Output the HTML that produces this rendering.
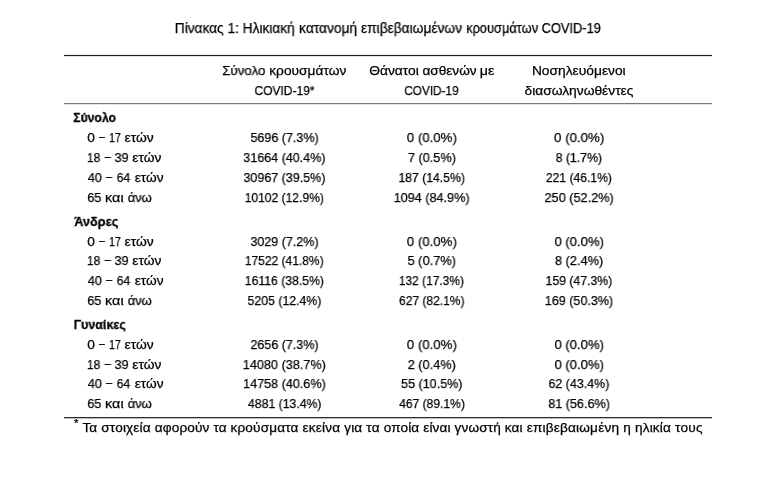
<!DOCTYPE html>
<html><head><meta charset="utf-8"><style>
html,body{margin:0;padding:0;background:#fff;width:779px;height:480px;overflow:hidden}
body{position:relative;font-family:"Liberation Sans",sans-serif;color:#000;-webkit-text-stroke:0.25px #000}
.t{position:absolute;white-space:pre;line-height:16px;will-change:transform;transform-origin:0 0}
.rule{position:absolute;left:64px;width:648px}
</style></head><body>
<div class="rule" style="top:54px;height:1px;background:#f0f0f0"></div>
<div class="rule" style="top:55px;height:1px;background:#1e1e1e"></div>
<div class="rule" style="top:56px;height:1px;background:#e2e2e2"></div>
<div class="rule" style="top:103px;height:1px;background:#777"></div>
<div class="rule" style="top:104px;height:1px;background:#e4e4e4"></div>
<div class="rule" style="top:417px;height:1px;background:#2e2e2e"></div>
<div class="rule" style="top:418px;height:1px;background:#bcbcbc"></div>
<div id="ast" style="position:absolute;left:74px;top:418px;font-size:11.5px;line-height:11px;will-change:transform;color:#000">*</div>

<div class="t" style="left:174px;padding-left:0.849px;top:19.90px;font-size:14px;font-weight:400;letter-spacing:0.000px;transform:scaleX(0.9773)">Πίνακας 1: Ηλικιακή</div>
<div class="t" style="left:299px;padding-left:0.106px;top:19.90px;font-size:14px;font-weight:400;letter-spacing:0.000px;transform:scaleX(0.9840)">κατανομή επιβεβαιωμένων</div>
<div class="t" style="left:466px;padding-left:0.167px;top:19.90px;font-size:14px;font-weight:400;letter-spacing:0.000px;transform:scaleX(0.9168)">κρουσμάτων COVID-19</div>
<div class="t" style="left:222px;padding-left:0.227px;top:63.36px;font-size:13.6px;font-weight:400;letter-spacing:0.000px;transform:scaleX(0.9801)">Σύνολο</div>
<div class="t" style="left:269px;padding-left:0.247px;top:63.36px;font-size:13.6px;font-weight:400;letter-spacing:0.000px;transform:scaleX(1.0111)">κρουσμάτων</div>
<div class="t" style="left:254px;padding-left:0.398px;top:83.36px;font-size:13.6px;font-weight:400;letter-spacing:0.000px;transform:scaleX(0.8863)">COVID-19*</div>
<div class="t" style="left:369px;padding-left:0.235px;top:63.36px;font-size:13.6px;font-weight:400;letter-spacing:0.000px;transform:scaleX(1.0150)">Θάνατοι</div>
<div class="t" style="left:422px;padding-left:0.453px;top:63.36px;font-size:13.6px;font-weight:400;letter-spacing:0.000px;transform:scaleX(1.0019)">ασθενών</div>
<div class="t" style="left:479px;padding-left:0.825px;top:63.36px;font-size:13.6px;font-weight:400;letter-spacing:0.000px;transform:scaleX(1.0456)">με</div>
<div class="t" style="left:404px;padding-left:0.278px;top:83.36px;font-size:13.6px;font-weight:400;letter-spacing:0.000px;transform:scaleX(0.8671)">COVID-19</div>
<div class="t" style="left:531px;padding-left:0.906px;top:63.36px;font-size:13.6px;font-weight:400;letter-spacing:0.000px;transform:scaleX(1.0143)">Νοσηλευόμενοι</div>
<div class="t" style="left:524px;padding-left:0.498px;top:83.36px;font-size:13.6px;font-weight:400;letter-spacing:0.000px;transform:scaleX(1.0143)">διασωληνωθέντες</div>
<div class="t" style="left:73px;padding-left:0.222px;top:109.66px;font-size:13.6px;font-weight:700;-webkit-text-stroke:0.3px #000;letter-spacing:0.000px;transform:scaleX(0.8984)">Σύνολο</div>
<div class="t" style="left:87px;padding-left:0.141px;top:130.46px;font-size:13.6px;font-weight:400;letter-spacing:0.000px;transform:scaleX(1.0112)">0</div>
<div class="t" style="left:99px;padding-left:0.010px;top:129.46px;font-size:13.6px;font-weight:400;letter-spacing:0.000px;transform:scaleX(0.7644)">–</div>
<div class="t" style="left:109px;padding-left:0.067px;top:130.46px;font-size:13.6px;font-weight:400;letter-spacing:0.000px;transform:scaleX(0.7846)">17</div>
<div class="t" style="left:124px;padding-left:0.584px;top:130.46px;font-size:13.6px;font-weight:400;letter-spacing:0.000px;transform:scaleX(1.0173)">ετών</div>
<div class="t" style="left:250px;padding-left:0.486px;top:130.46px;font-size:13.6px;font-weight:400;letter-spacing:0.000px;transform:scaleX(0.9215)">5696 (7.3%)</div>
<div class="t" style="left:406px;padding-left:0.814px;top:130.46px;font-size:13.6px;font-weight:400;letter-spacing:0.000px;transform:scaleX(0.9739)">0 (0.0%)</div>
<div class="t" style="left:554px;padding-left:0.105px;top:130.46px;font-size:13.6px;font-weight:400;letter-spacing:0.000px;transform:scaleX(0.9762)">0 (0.0%)</div>
<div class="t" style="left:86px;padding-left:0.996px;top:150.36px;font-size:13.6px;font-weight:400;letter-spacing:0.000px;transform:scaleX(0.8901)">18</div>
<div class="t" style="left:104px;padding-left:0.649px;top:149.36px;font-size:13.6px;font-weight:400;letter-spacing:0.000px;transform:scaleX(0.8317)">–</div>
<div class="t" style="left:114px;padding-left:0.404px;top:150.36px;font-size:13.6px;font-weight:400;letter-spacing:0.000px;transform:scaleX(0.9391)">39</div>
<div class="t" style="left:132px;padding-left:0.369px;top:150.36px;font-size:13.6px;font-weight:400;letter-spacing:0.000px;transform:scaleX(1.0135)">ετών</div>
<div class="t" style="left:243px;padding-left:0.361px;top:150.36px;font-size:13.6px;font-weight:400;letter-spacing:0.000px;transform:scaleX(0.9216)">31664 (40.4%)</div>
<div class="t" style="left:407px;padding-left:0.896px;top:150.36px;font-size:13.6px;font-weight:400;letter-spacing:0.000px;transform:scaleX(0.9356)">7 (0.5%)</div>
<div class="t" style="left:555px;padding-left:0.681px;top:150.36px;font-size:13.6px;font-weight:400;letter-spacing:0.000px;transform:scaleX(0.9043)">8 (1.7%)</div>
<div class="t" style="left:87px;padding-left:0.663px;top:170.26px;font-size:13.6px;font-weight:400;letter-spacing:0.000px;transform:scaleX(0.9423)">40</div>
<div class="t" style="left:105px;padding-left:0.910px;top:169.26px;font-size:13.6px;font-weight:400;letter-spacing:0.000px;transform:scaleX(0.8308)">–</div>
<div class="t" style="left:116px;padding-left:0.629px;top:170.26px;font-size:13.6px;font-weight:400;letter-spacing:0.000px;transform:scaleX(0.8934)">64</div>
<div class="t" style="left:134px;padding-left:0.651px;top:170.26px;font-size:13.6px;font-weight:400;letter-spacing:0.000px;transform:scaleX(1.0063)">ετών</div>
<div class="t" style="left:243px;padding-left:0.529px;top:170.26px;font-size:13.6px;font-weight:400;letter-spacing:0.000px;transform:scaleX(0.9187)">30967 (39.5%)</div>
<div class="t" style="left:398px;padding-left:0.461px;top:170.26px;font-size:13.6px;font-weight:400;letter-spacing:0.000px;transform:scaleX(0.8978)">187 (14.5%)</div>
<div class="t" style="left:545px;padding-left:0.973px;top:170.26px;font-size:13.6px;font-weight:400;letter-spacing:0.000px;transform:scaleX(0.8915)">221 (46.1%)</div>
<div class="t" style="left:87px;padding-left:0.255px;top:190.36px;font-size:13.6px;font-weight:400;letter-spacing:0.000px;transform:scaleX(0.9371)">65</div>
<div class="t" style="left:105px;padding-left:0.090px;top:190.36px;font-size:13.6px;font-weight:400;letter-spacing:0.000px;transform:scaleX(1.0587)">και</div>
<div class="t" style="left:127px;padding-left:0.698px;top:190.36px;font-size:13.6px;font-weight:400;letter-spacing:0.000px;transform:scaleX(0.9564)">άνω</div>
<div class="t" style="left:244px;padding-left:0.687px;top:190.36px;font-size:13.6px;font-weight:400;letter-spacing:0.000px;transform:scaleX(0.8897)">10102 (12.9%)</div>
<div class="t" style="left:393px;padding-left:0.674px;top:190.36px;font-size:13.6px;font-weight:400;letter-spacing:0.000px;transform:scaleX(0.9306)">1094 (84.9%)</div>
<div class="t" style="left:544px;padding-left:0.564px;top:190.36px;font-size:13.6px;font-weight:400;letter-spacing:0.000px;transform:scaleX(0.9350)">250 (52.2%)</div>
<div class="t" style="left:74px;padding-left:0.165px;top:213.56px;font-size:13.6px;font-weight:700;-webkit-text-stroke:0.3px #000;letter-spacing:0.000px;transform:scaleX(0.9369)">Άνδρες</div>
<div class="t" style="left:87px;padding-left:0.141px;top:234.26px;font-size:13.6px;font-weight:400;letter-spacing:0.000px;transform:scaleX(1.0112)">0</div>
<div class="t" style="left:99px;padding-left:0.010px;top:233.26px;font-size:13.6px;font-weight:400;letter-spacing:0.000px;transform:scaleX(0.7644)">–</div>
<div class="t" style="left:109px;padding-left:0.067px;top:234.26px;font-size:13.6px;font-weight:400;letter-spacing:0.000px;transform:scaleX(0.7846)">17</div>
<div class="t" style="left:124px;padding-left:0.584px;top:234.26px;font-size:13.6px;font-weight:400;letter-spacing:0.000px;transform:scaleX(1.0173)">ετών</div>
<div class="t" style="left:250px;padding-left:0.436px;top:234.26px;font-size:13.6px;font-weight:400;letter-spacing:0.000px;transform:scaleX(0.9208)">3029 (7.2%)</div>
<div class="t" style="left:406px;padding-left:0.814px;top:234.26px;font-size:13.6px;font-weight:400;letter-spacing:0.000px;transform:scaleX(0.9739)">0 (0.0%)</div>
<div class="t" style="left:554px;padding-left:0.432px;top:234.26px;font-size:13.6px;font-weight:400;letter-spacing:0.000px;transform:scaleX(0.9646)">0 (0.0%)</div>
<div class="t" style="left:86px;padding-left:0.996px;top:252.96px;font-size:13.6px;font-weight:400;letter-spacing:0.000px;transform:scaleX(0.8901)">18</div>
<div class="t" style="left:104px;padding-left:0.649px;top:251.96px;font-size:13.6px;font-weight:400;letter-spacing:0.000px;transform:scaleX(0.8317)">–</div>
<div class="t" style="left:114px;padding-left:0.404px;top:252.96px;font-size:13.6px;font-weight:400;letter-spacing:0.000px;transform:scaleX(0.9391)">39</div>
<div class="t" style="left:132px;padding-left:0.369px;top:252.96px;font-size:13.6px;font-weight:400;letter-spacing:0.000px;transform:scaleX(1.0135)">ετών</div>
<div class="t" style="left:244px;padding-left:0.992px;top:252.96px;font-size:13.6px;font-weight:400;letter-spacing:0.000px;transform:scaleX(0.8823)">17522 (41.8%)</div>
<div class="t" style="left:407px;padding-left:0.527px;top:252.96px;font-size:13.6px;font-weight:400;letter-spacing:0.000px;transform:scaleX(0.9463)">5 (0.7%)</div>
<div class="t" style="left:554px;padding-left:0.956px;top:252.96px;font-size:13.6px;font-weight:400;letter-spacing:0.000px;transform:scaleX(0.9407)">8 (2.4%)</div>
<div class="t" style="left:87px;padding-left:0.663px;top:272.76px;font-size:13.6px;font-weight:400;letter-spacing:0.000px;transform:scaleX(0.9423)">40</div>
<div class="t" style="left:105px;padding-left:0.910px;top:271.76px;font-size:13.6px;font-weight:400;letter-spacing:0.000px;transform:scaleX(0.8308)">–</div>
<div class="t" style="left:116px;padding-left:0.629px;top:272.76px;font-size:13.6px;font-weight:400;letter-spacing:0.000px;transform:scaleX(0.8934)">64</div>
<div class="t" style="left:134px;padding-left:0.651px;top:272.76px;font-size:13.6px;font-weight:400;letter-spacing:0.000px;transform:scaleX(1.0063)">ετών</div>
<div class="t" style="left:244px;padding-left:0.848px;top:272.76px;font-size:13.6px;font-weight:400;letter-spacing:0.000px;transform:scaleX(0.8980)">16116 (38.5%)</div>
<div class="t" style="left:398px;padding-left:0.908px;top:272.76px;font-size:13.6px;font-weight:400;letter-spacing:0.000px;transform:scaleX(0.8801)">132 (17.3%)</div>
<div class="t" style="left:545px;padding-left:0.604px;top:272.76px;font-size:13.6px;font-weight:400;letter-spacing:0.000px;transform:scaleX(0.9009)">159 (47.3%)</div>
<div class="t" style="left:87px;padding-left:0.255px;top:292.56px;font-size:13.6px;font-weight:400;letter-spacing:0.000px;transform:scaleX(0.9371)">65</div>
<div class="t" style="left:105px;padding-left:0.090px;top:292.56px;font-size:13.6px;font-weight:400;letter-spacing:0.000px;transform:scaleX(1.0587)">και</div>
<div class="t" style="left:127px;padding-left:0.698px;top:292.56px;font-size:13.6px;font-weight:400;letter-spacing:0.000px;transform:scaleX(0.9564)">άνω</div>
<div class="t" style="left:247px;padding-left:0.617px;top:292.56px;font-size:13.6px;font-weight:400;letter-spacing:0.000px;transform:scaleX(0.9040)">5205 (12.4%)</div>
<div class="t" style="left:399px;padding-left:0.111px;top:292.56px;font-size:13.6px;font-weight:400;letter-spacing:0.000px;transform:scaleX(0.8823)">627 (82.1%)</div>
<div class="t" style="left:544px;padding-left:0.847px;top:292.56px;font-size:13.6px;font-weight:400;letter-spacing:0.000px;transform:scaleX(0.9235)">169 (50.3%)</div>
<div class="t" style="left:73px;padding-left:0.625px;top:316.56px;font-size:13.6px;font-weight:700;-webkit-text-stroke:0.3px #000;letter-spacing:0.000px;transform:scaleX(0.9176)">Γυναίκες</div>
<div class="t" style="left:87px;padding-left:0.141px;top:337.46px;font-size:13.6px;font-weight:400;letter-spacing:0.000px;transform:scaleX(1.0112)">0</div>
<div class="t" style="left:99px;padding-left:0.010px;top:336.46px;font-size:13.6px;font-weight:400;letter-spacing:0.000px;transform:scaleX(0.7644)">–</div>
<div class="t" style="left:109px;padding-left:0.067px;top:337.46px;font-size:13.6px;font-weight:400;letter-spacing:0.000px;transform:scaleX(0.7846)">17</div>
<div class="t" style="left:124px;padding-left:0.584px;top:337.46px;font-size:13.6px;font-weight:400;letter-spacing:0.000px;transform:scaleX(1.0173)">ετών</div>
<div class="t" style="left:250px;padding-left:0.456px;top:337.46px;font-size:13.6px;font-weight:400;letter-spacing:0.000px;transform:scaleX(0.9197)">2656 (7.3%)</div>
<div class="t" style="left:406px;padding-left:0.814px;top:337.46px;font-size:13.6px;font-weight:400;letter-spacing:0.000px;transform:scaleX(0.9739)">0 (0.0%)</div>
<div class="t" style="left:554px;padding-left:0.432px;top:337.46px;font-size:13.6px;font-weight:400;letter-spacing:0.000px;transform:scaleX(0.9646)">0 (0.0%)</div>
<div class="t" style="left:86px;padding-left:0.996px;top:357.26px;font-size:13.6px;font-weight:400;letter-spacing:0.000px;transform:scaleX(0.8901)">18</div>
<div class="t" style="left:104px;padding-left:0.649px;top:356.26px;font-size:13.6px;font-weight:400;letter-spacing:0.000px;transform:scaleX(0.8317)">–</div>
<div class="t" style="left:114px;padding-left:0.404px;top:357.26px;font-size:13.6px;font-weight:400;letter-spacing:0.000px;transform:scaleX(0.9391)">39</div>
<div class="t" style="left:132px;padding-left:0.369px;top:357.26px;font-size:13.6px;font-weight:400;letter-spacing:0.000px;transform:scaleX(1.0135)">ετών</div>
<div class="t" style="left:242px;padding-left:0.847px;top:357.26px;font-size:13.6px;font-weight:400;letter-spacing:0.000px;transform:scaleX(0.9314)">14080 (38.7%)</div>
<div class="t" style="left:407px;padding-left:0.735px;top:357.26px;font-size:13.6px;font-weight:400;letter-spacing:0.000px;transform:scaleX(0.9384)">2 (0.4%)</div>
<div class="t" style="left:554px;padding-left:0.432px;top:357.26px;font-size:13.6px;font-weight:400;letter-spacing:0.000px;transform:scaleX(0.9646)">0 (0.0%)</div>
<div class="t" style="left:87px;padding-left:0.663px;top:376.06px;font-size:13.6px;font-weight:400;letter-spacing:0.000px;transform:scaleX(0.9423)">40</div>
<div class="t" style="left:105px;padding-left:0.910px;top:375.06px;font-size:13.6px;font-weight:400;letter-spacing:0.000px;transform:scaleX(0.8308)">–</div>
<div class="t" style="left:116px;padding-left:0.629px;top:376.06px;font-size:13.6px;font-weight:400;letter-spacing:0.000px;transform:scaleX(0.8934)">64</div>
<div class="t" style="left:134px;padding-left:0.651px;top:376.06px;font-size:13.6px;font-weight:400;letter-spacing:0.000px;transform:scaleX(1.0063)">ετών</div>
<div class="t" style="left:243px;padding-left:0.122px;top:376.06px;font-size:13.6px;font-weight:400;letter-spacing:0.000px;transform:scaleX(0.9265)">14758 (40.6%)</div>
<div class="t" style="left:401px;padding-left:0.121px;top:376.06px;font-size:13.6px;font-weight:400;letter-spacing:0.000px;transform:scaleX(0.9233)">55 (10.5%)</div>
<div class="t" style="left:548px;padding-left:0.479px;top:376.06px;font-size:13.6px;font-weight:400;letter-spacing:0.000px;transform:scaleX(0.9157)">62 (43.4%)</div>
<div class="t" style="left:87px;padding-left:0.255px;top:395.86px;font-size:13.6px;font-weight:400;letter-spacing:0.000px;transform:scaleX(0.9371)">65</div>
<div class="t" style="left:105px;padding-left:0.090px;top:395.86px;font-size:13.6px;font-weight:400;letter-spacing:0.000px;transform:scaleX(1.0587)">και</div>
<div class="t" style="left:127px;padding-left:0.698px;top:395.86px;font-size:13.6px;font-weight:400;letter-spacing:0.000px;transform:scaleX(0.9564)">άνω</div>
<div class="t" style="left:248px;padding-left:0.016px;top:395.86px;font-size:13.6px;font-weight:400;letter-spacing:0.000px;transform:scaleX(0.9004)">4881 (13.4%)</div>
<div class="t" style="left:399px;padding-left:0.135px;top:395.86px;font-size:13.6px;font-weight:400;letter-spacing:0.000px;transform:scaleX(0.8875)">467 (89.1%)</div>
<div class="t" style="left:548px;padding-left:0.151px;top:395.86px;font-size:13.6px;font-weight:400;letter-spacing:0.000px;transform:scaleX(0.9306)">81 (56.6%)</div>
<div class="t" style="left:82px;padding-left:0.392px;top:420.06px;font-size:13.6px;font-weight:400;letter-spacing:0.155px">Τα στοιχεία αφορούν τα</div>
<div class="t" style="left:230px;padding-left:0.447px;top:420.06px;font-size:13.6px;font-weight:400;letter-spacing:0.174px">κρούσματα εκείνα για τα</div>
<div class="t" style="left:383px;padding-left:0.667px;top:420.06px;font-size:13.6px;font-weight:400;letter-spacing:0.135px">οποία είναι γνωστή και</div>
<div class="t" style="left:526px;padding-left:0.678px;top:420.06px;font-size:13.6px;font-weight:400;letter-spacing:0.200px">επιβεβαιωμένη η ηλικία τους</div>
</body></html>
